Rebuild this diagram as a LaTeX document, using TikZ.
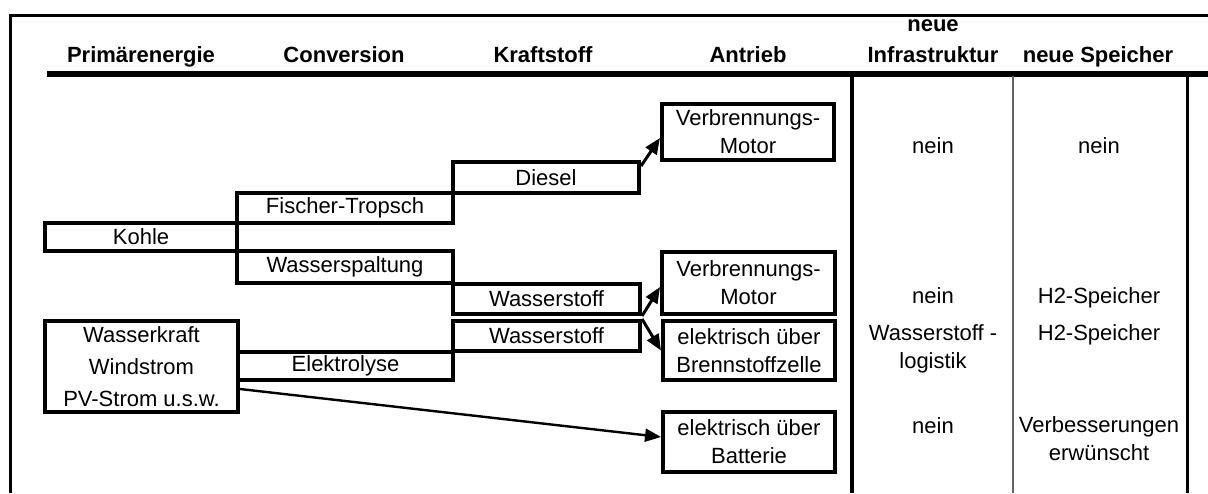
\documentclass[tikz,border=0pt]{standalone}
\usepackage{fontspec}
\setmainfont{Liberation Sans}
\usetikzlibrary{arrows.meta,calc}
\begin{document}
\begin{tikzpicture}[x=0.5pt,y=-0.5pt,
  every node/.style={inner sep=0pt, align=center,
    font=\fontsize{11pt}{14pt}\selectfont},
  head/.style={anchor=base, font=\fontsize{11pt}{15.5pt}\selectfont\bfseries},
  cell/.style={anchor=base},
  box/.style={draw, line width=2pt},
  arr/.style={-{Triangle[length=8pt,width=6.5pt]}, line width=1.5pt},
  rule/.style={line width=1.5pt}]
\useasboundingbox (0,0) rectangle (1208,493);

% table frame and column rules
\draw[rule] (1208,15.5) -- (10,15.5) -- (10,493);
\draw[line width=3pt] (47,74) -- (1208,74);
\draw[line width=1.75pt] (852,76) -- (852,493);
\draw[line width=0.8pt, black!60] (1013,76) -- (1013,493);
\draw[rule] (1187,76) -- (1187,493);

% column headings (base = baseline of the last line)
\node[head] (hPrim)  at (141,62)  {Primärenergie};
\node[head] (hConv)  at (344,62)  {Conversion};
\node[head] (hKraft) at (543,62)  {Kraftstoff};
\node[head] (hAntr)  at (748,62)  {Antrieb};
\node[head] (hInfra) at (933,62)  {neue\\Infrastruktur};
\node[head] (hSpei)  at (1098,62) {neue Speicher};

% primary energy
\node[box, minimum width=96pt, minimum height=14pt] (kohle) at (141,237) {Kohle};
\node[box, minimum width=96.5pt, minimum height=45.5pt,
  font=\fontsize{11pt}{16pt}\selectfont] (wk) at (141.5,366.5)
  {Wasserkraft\\Windstrom\\PV-Strom u.s.w.};

% conversion
\node[box, minimum width=108pt, minimum height=15pt] (ft) at (345,208) {Fischer-Tropsch};
\node[box, minimum width=108pt, minimum height=16pt] (ws) at (345,267) {Wasserspaltung};
\node[box, minimum width=107.5pt, minimum height=14pt] (elek) at (345.5,366) {Elektrolyse};

% fuels
\node[box, minimum width=93pt, minimum height=15.5pt] (diesel) at (546,177.5) {Diesel};
\node[box, minimum width=93.5pt, minimum height=15pt] (h2a) at (546.5,299) {Wasserstoff};
\node[box, minimum width=93.5pt, minimum height=15pt] (h2b) at (546.5,336) {Wasserstoff};

% drives
\node[box, minimum width=86pt, minimum height=28pt] (vm1) at (748,132) {Verbrennungs-\\Motor};
\node[box, minimum width=86.5pt, minimum height=31pt] (vm2) at (748.5,283) {Verbrennungs-\\Motor};
\node[box, minimum width=86pt, minimum height=29.5pt] (bz) at (749,350.5) {elektrisch über\\Brennstoffzelle};
\node[box, minimum width=86pt, minimum height=30pt] (batt) at (749,442) {elektrisch über\\Batterie};

% arrows into the drives
\draw[arr] ([yshift=-3pt]diesel.north east) -- ([yshift=-3pt]vm1.west);
\draw[arr] (h2a.south east) -- ([yshift=-2pt]vm2.west);
\draw[arr] (h2b.north east) -- (bz.west);
\draw[arr, line width=1.2pt] ([yshift=-11.25pt]wk.east) -- ([yshift=2.5pt]batt.west);

% infrastructure column
\node[cell] (i1) at (933,153) {nein};
\node[cell] (i2) at (933,303) {nein};
\node[cell] (i3) at (933,368) {Wasserstoff -\\logistik};
\node[cell] (i4) at (933,433) {nein};

% storage column
\node[cell] (s1) at (1099,153) {nein};
\node[cell] (s2) at (1099,303) {H2-Speicher};
\node[cell] (s3) at (1099,340) {H2-Speicher};
\node[cell] (s4) at (1099,460) {Verbesserungen\\erwünscht};
\end{tikzpicture}
\end{document}
